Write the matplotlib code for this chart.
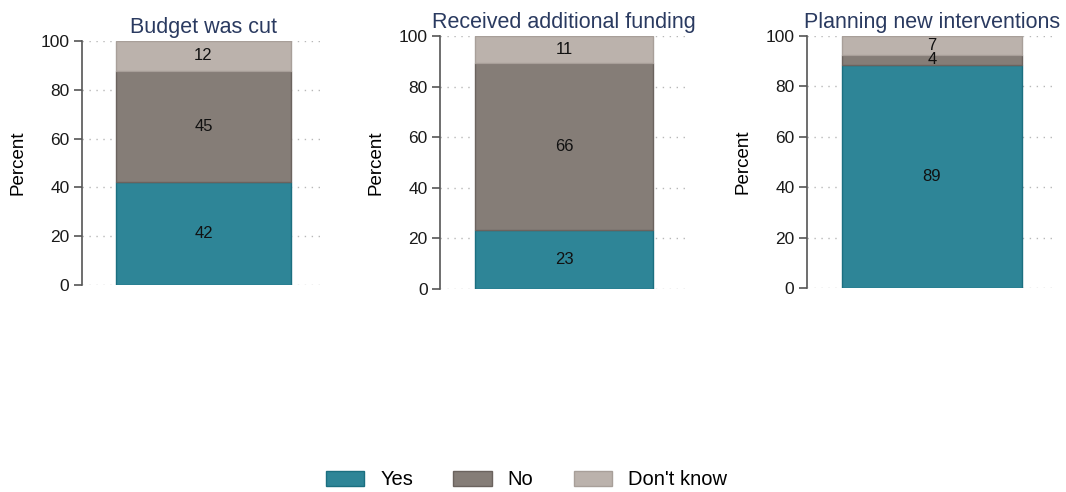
import matplotlib.pyplot as plt
from matplotlib.patches import Patch

plt.rcParams['font.family'] = ['Liberation Sans', 'DejaVu Sans']

# data (percent)
titles = ['Budget was cut', 'Received additional funding', 'Planning new interventions']
categories = ['Yes', 'No', "Don't know"]
yes = [42.3, 23.3, 88.6]
no = [45.4, 66.1, 4.0]
dont_know = [12.3, 10.6, 7.4]

colors = ['#2e8597', '#857d77', '#bbb2ac']
edges = ['#1b6f80', '#6b635e', '#a89f99']
title_color = '#2a3a60'

fig = plt.figure(figsize=(10.66, 4.92), dpi=100)

# axes positions [left, bottom, width, height] in figure fractions
positions = [
    [0.0769, 0.4207, 0.228, 0.496],
    [0.4128, 0.4126, 0.2326, 0.514],
    [0.757, 0.4146, 0.2345, 0.512],
]

for i, pos in enumerate(positions):
    ax = fig.add_axes(pos)
    vals = [yes[i], no[i], dont_know[i]]
    bottom = 0
    for v, c, e in zip(vals, colors, edges):
        ax.bar(0.5, v, width=0.72, bottom=bottom, color=c, edgecolor=e, linewidth=1, zorder=3)
        ax.text(0.5, bottom + v / 2, str(round(v)), ha='center', va='center',
                fontsize=12, color='#111111', zorder=4)
        bottom += v

    ax.set_xlim(0, 1)
    ax.set_ylim(0, 100)
    ax.set_yticks([0, 20, 40, 60, 80, 100])
    ax.set_xticks([])
    ax.yaxis.grid(True, linestyle=(0, (1, 4)), color='#b8b8b8', linewidth=1, zorder=0)
    for s in ['top', 'right', 'bottom']:
        ax.spines[s].set_visible(False)
    ax.spines['left'].set_color('#555555')
    ax.spines['left'].set_linewidth(1.2)
    ax.tick_params(axis='y', length=6, width=1.2, color='#555555', labelsize=12.5,
                   labelcolor='#1a1a1a', pad=3)
    ax.set_ylabel('Percent', fontsize=13.5, labelpad=10)
    ax.set_title(titles[i], fontsize=15.5, color=title_color, pad=6)

handles = [Patch(facecolor=c, edgecolor=e, label=l) for c, e, l in zip(colors, edges, categories)]
fig.legend(handles=handles, loc='center', bbox_to_anchor=(0.494, 0.025), ncol=3,
           frameon=False, fontsize=14.5, handlelength=1.9, handleheight=0.75,
           handletextpad=0.8, columnspacing=2.0)

fig.savefig('out.png', dpi=100)
